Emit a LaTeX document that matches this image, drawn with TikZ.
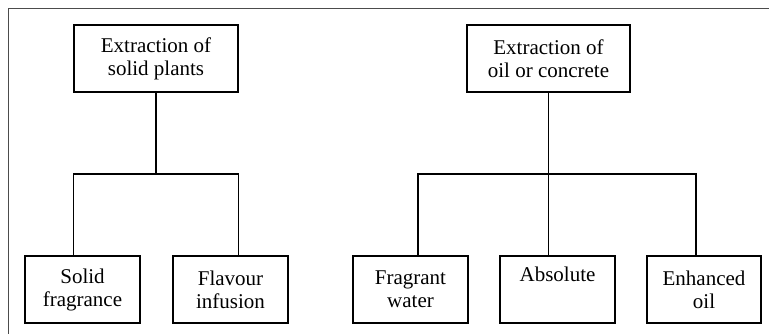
\documentclass[tikz,border=0pt]{standalone}
\usepackage{fontspec}
\setmainfont{Liberation Serif}
\begin{document}
\begin{tikzpicture}[x=1pt,y=1pt,
  box/.style={draw=black, line width=1.1pt, minimum height=67pt, align=center, inner sep=0pt,
    font=\fontsize{21}{23}\selectfont},
  conn/.style={draw=black, line width=1.1pt},
  frame/.style={draw=black!70, line width=1.2pt}]
\useasboundingbox (0,0) rectangle (769,334);
\draw[frame] (8.5,0) -- (8.5,325.5) -- (769,325.5);
% top boxes
\node[box, minimum width=164pt] (A) at (156,275.5) {Extraction of\\solid plants};
\node[box, minimum width=163pt] (B) at (548.5,275.5) {Extraction of\\oil or concrete};
% bottom boxes
\node[box, minimum width=115pt] (SF) at (82.5,44.5) {Solid\\fragrance};
\node[box, minimum width=115pt] (FI) at (230.5,44.5) {Flavour\\infusion};
\node[box, minimum width=115pt] (FW) at (410.5,44.5) {Fragrant\\water};
\node[box, minimum width=115pt] (AB) at (557.5,44.5) {Absolute\\\strut};
\node[box, minimum width=114pt] (EO) at (704,44.5) {Enhanced\\oil};
% connectors left
\coordinate (Lm) at (156,160);
\draw[conn] (A.south) -- (Lm);
\draw[conn] (A.west |- SF.north) -- (A.west |- Lm) -- (A.east |- Lm) -- (A.east |- FI.north);
% connectors right
\coordinate (R1) at (418,160);
\coordinate (R2) at (696,160);
\draw[conn] (B.south) -- (B.south |- AB.north);
\draw[conn] (R1 |- FW.north) -- (R1) -- (R2) -- (R2 |- EO.north);
\end{tikzpicture}
\end{document}
